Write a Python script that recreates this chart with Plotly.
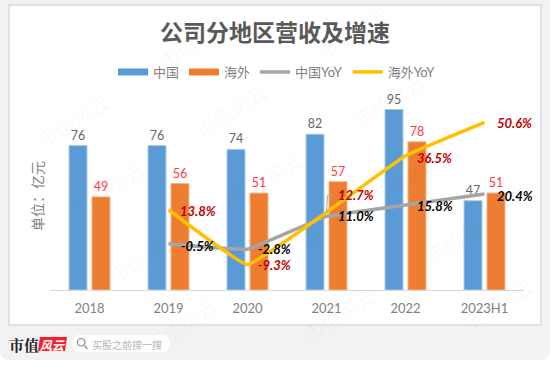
import plotly.graph_objects as go

categories = ["2018", "2019", "2020", "2021", "2022", "2023H1"]
china = [76, 76, 74, 82, 95, 47]
overseas = [49, 56, 51, 57, 78, 51]
yoy_categories = ["2019", "2020", "2021", "2022", "2023H1"]
china_yoy = [-0.5, -2.8, 11.0, 15.8, 20.4]
overseas_yoy = [13.8, -9.3, 12.7, 36.5, 50.6]
# label offsets in pixels relative to each point
china_yoy_shift = [(29, -2), (27, 0), (29, 0), (29, -1), (30, -2)]
overseas_yoy_shift = [(29, -1), (27, 0), (29, 17), (29, -2), (30, -1)]

W, H = 550, 365
L, R, T, B = 50, 26, 100, 75
PW, PH = W - L - R, H - T - B
FONT = "Lato, 'Noto Sans CJK SC', sans-serif"
CJK = "'Noto Sans CJK SC', sans-serif"
BLUE, ORANGE, GRAY, YELLOW = "#5B9BD5", "#ED7D31", "#A5A5A5", "#FFC000"
TXT = "#7F7F7F"


def px(x):
    return (x - L) / PW


def py(y):
    return (H - B - y) / PH


fig = go.Figure()
# legend entries with wide swatches
fig.add_trace(go.Scatter(x=[categories[0]], y=[None], mode="lines", name="中国", legendgroup="cn",
                         line=dict(color=BLUE, width=7)))
fig.add_trace(go.Scatter(x=[categories[0]], y=[None], mode="lines", name="海外", legendgroup="os",
                         line=dict(color=ORANGE, width=7)))
fig.add_trace(go.Bar(x=categories, y=china, name="中国", legendgroup="cn", showlegend=False,
                     marker=dict(color=BLUE, line=dict(color="#A9CBEA", width=1)),
                     text=china, textposition="outside", cliponaxis=False,
                     textfont=dict(color="#666666", size=12.5, family=FONT)))
fig.add_trace(go.Bar(x=categories, y=overseas, name="海外", legendgroup="os", showlegend=False,
                     marker=dict(color=ORANGE, line=dict(color="#F6B48A", width=1)),
                     text=overseas, textposition="outside", cliponaxis=False,
                     textfont=dict(color="#FF3B3B", size=12.5, family=FONT)))
fig.add_trace(go.Scatter(x=yoy_categories, y=china_yoy, name="中国YoY", yaxis="y2", mode="lines",
                         line=dict(color=GRAY, width=3.5, shape="spline", smoothing=0.25)))
fig.add_trace(go.Scatter(x=yoy_categories, y=overseas_yoy, name="海外YoY", yaxis="y2", mode="lines",
                         line=dict(color=YELLOW, width=3.5, shape="spline", smoothing=0.25)))

ann = []


def yoy_labels(vals, shifts, color):
    for c, v, (dx, dy) in zip(yoy_categories, vals, shifts):
        ann.append(dict(x=categories.index(c), y=v, xref="x", yref="y2", text=f"{v:.1f}%", showarrow=False,
                        xshift=dx, yshift=dy,
                        font=dict(family=FONT, size=13, color=color, weight="bold", style="italic")))


yoy_labels(china_yoy, china_yoy_shift, "#000000")
yoy_labels(overseas_yoy, overseas_yoy_shift, "#C00000")


def ptext(x, y, text, size, color, angle=0, family=CJK, weight="normal"):
    ann.append(dict(x=px(x), y=py(y), xref="paper", yref="paper", text=text, showarrow=False,
                    xanchor="center", yanchor="middle", textangle=angle,
                    font=dict(family=family, size=size, color=color, weight=weight)))


ptext(275, 31, "公司分地区营收及增速", 23, "#595959", weight="bold")
ptext(37, 196, "单位：亿元", 14, TXT, angle=-90)
ptext(23.5, 344, "市值", 15, "#222222", family="'Noto Serif CJK SC', 'Noto Sans CJK SC', serif", weight="bold")
ptext(52.5, 344, "<i>风云</i>", 12, "#FFFFFF", weight="bold")
ptext(127, 344, "买股之前搜一搜", 10, "#B5B5B5")

# watermark lattice (only repeats that stay fully inside the page)
watermark_i = [-1, 0, 1, 2, 3]
watermark_j = [0, 1, 2, 3, 4, 5]
for j in watermark_j:
    for i in watermark_i:
        wx = 37 + i * 158 + j * 36
        wy = 52 - i * 10 + j * 68
        if 38 < wx < 512 and 26 < wy < 339:
            ptext(wx, wy, "市值风云", 20, "rgba(0,0,0,0.032)", angle=-32)

shapes = []


def shp(d, fill=None, line=None, lw=0):
    shapes.append(dict(type="path", path=d, xref="paper", yref="paper", layer="below",
                       fillcolor=fill or "rgba(0,0,0,0)", line=dict(color=line or "rgba(0,0,0,0)", width=lw)))


def P(x, y):
    return f"{px(x):.5f},{py(y):.5f}"


# grey page band with rounded bottom corners
shp(f"M{P(0,0)} L{P(550,0)} L{P(550,350)} Q{P(550,360)} {P(540,360)} L{P(10,360)} Q{P(0,360)} {P(0,350)} Z", fill="#F2F2F2")
# chart card
shp(f"M{P(9,5)} L{P(541,5)} L{P(541,325)} L{P(9,325)} Z", fill="#FFFFFF", line="#DADADA", lw=1.5)
# search pill
shp(f"M{P(80,335)} L{P(162,335)} Q{P(170,335)} {P(170,343.5)} Q{P(170,352)} {P(162,352)} L{P(80,352)} Q{P(72,352)} {P(72,343.5)} Q{P(72,335)} {P(80,335)} Z", fill="#FFFFFF")
# logo box
shp(f"M{P(40,337)} L{P(67,337)} L{P(65,351)} L{P(38,351)} Z", fill="#F5222D")
# magnifier
shapes.append(dict(type="circle", xref="paper", yref="paper", x0=px(77.5), x1=px(85), y0=py(338.5), y1=py(346), layer="below",
                   line=dict(color="#8C8C8C", width=1.2)))
shp(f"M{P(84.5,345.5)} L{P(87.5,349)}", line="#8C8C8C", lw=1.2)
# leader line from the 12.7% point to its label
leader_x = categories.index("2021")
shapes.append(dict(type="line", xref="x", yref="y2", xsizemode="pixel", ysizemode="pixel", xanchor=leader_x, yanchor=12.7,
                   x0=0, y0=0, x1=1, y1=17, line=dict(color="#A6A6A6", width=1)))
shapes.append(dict(type="line", xref="x", yref="y2", xsizemode="pixel", ysizemode="pixel", xanchor=leader_x, yanchor=12.7,
                   x0=1, y0=17, x1=7, y1=17, line=dict(color="#A6A6A6", width=1)))

fig.update_layout(
    width=W, height=H, autosize=False,
    margin=dict(l=L, r=R, t=T, b=B, pad=0),
    paper_bgcolor="#FFFFFF", plot_bgcolor="rgba(0,0,0,0)",
    font=dict(family=FONT, color=TXT, size=13),
    barmode="group", bargap=0.418, bargroupgap=0.217,
    xaxis=dict(type="category", categoryorder="array", categoryarray=categories, range=[-0.5, 5.5],
               showgrid=False, zeroline=False, ticklabelstandoff=6,
               showline=True, linecolor="#D9D9D9", linewidth=1, ticks="", tickfont=dict(size=13, color=TXT, family=FONT)),
    yaxis=dict(range=[0, 100], visible=False),
    yaxis2=dict(range=[-20, 60], overlaying="y", side="right", visible=False),
    legend=dict(orientation="h", x=px(113), y=py(57), xanchor="left", yanchor="top",
                bgcolor="rgba(0,0,0,0)", font=dict(size=13, color=TXT, family=FONT), itemclick=False),
    annotations=ann, shapes=shapes,
)
fig.write_html("out.html", config={"displayModeBar": False},
               post_script="document.body.style.margin='0';document.documentElement.style.overflow='hidden';")
